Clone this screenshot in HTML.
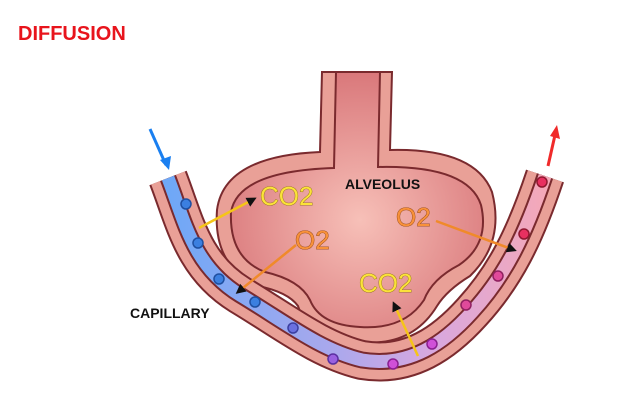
<!DOCTYPE html>
<html><head><style>body{margin:0;background:#fff}svg{display:block}</style></head><body>
<svg width="643" height="411" viewBox="0 0 643 411" xmlns="http://www.w3.org/2000/svg">
<defs>
<radialGradient id="ag" cx="360" cy="220" r="150" gradientUnits="userSpaceOnUse"><stop offset="0" stop-color="#f7c0b8"/><stop offset="1" stop-color="#d9777a"/></radialGradient>
<linearGradient id="lg" x1="170" y1="0" x2="545" y2="0" gradientUnits="userSpaceOnUse"><stop offset="0" stop-color="#6fa8f7"/><stop offset="0.45" stop-color="#aca8ec"/><stop offset="0.7" stop-color="#d8a8e0"/><stop offset="1" stop-color="#f4a8b8"/></linearGradient>
<marker id="ah" markerWidth="10" markerHeight="10" refX="7" refY="5" orient="auto" markerUnits="userSpaceOnUse" viewBox="0 0 10 10"><path d="M0,0 L10,5 L0,10 Z" fill="#111"/></marker>
</defs>
<text x="18" y="40" font-family="Liberation Sans, sans-serif" font-weight="bold" font-size="20" fill="#e8141c">DIFFUSION</text>
<path d="M322,72 L392,72 L390,150 Q475,148 492,192 Q505,242 470,276 Q447,290 437,306 Q412,347 360,342 Q308,337 298,306 Q288,292 258,286 Q213,266 217,210 Q224,156 320,152 Z" fill="#e9a097" stroke="#7a2a2e" stroke-width="2"/>
<path d="M336,72 L380,72 L378,167 Q468,165 481,205 Q490,244 459,265 Q432,279 424,300 Q404,330 360,327 Q320,325 310,300 Q300,280 265,272 Q229,258 231,212 Q238,171 334,168 Z" fill="url(#ag)" stroke="#7a2a2e" stroke-width="2"/>
<g fill="none" stroke-linecap="butt">
<path d="M168,178 C185,222 193,266 240,295 C285,322 320,350 362,360 C410,368 445,342 472,312 C505,276 525,236 545,176" stroke="#7a2a2e" stroke-width="40"/>
<path d="M168,178 C185,222 193,266 240,295 C285,322 320,350 362,360 C410,368 445,342 472,312 C505,276 525,236 545,176" stroke="#e9a097" stroke-width="36"/>
<path d="M168,178 C185,222 193,266 240,295 C285,322 320,350 362,360 C410,368 445,342 472,312 C505,276 525,236 545,176" stroke="#7a2a2e" stroke-width="17"/>
<path d="M168,178 C185,222 193,266 240,295 C285,322 320,350 362,360 C410,368 445,342 472,312 C505,276 525,236 545,176" stroke="url(#lg)" stroke-width="13"/>
</g>
<rect x="140" y="150" width="60" height="26" fill="#fff" transform="rotate(-22 170 176)"/>
<rect x="518" y="146" width="60" height="26" fill="#fff" transform="rotate(18 545 172)"/>
<g stroke-width="1.5">
<g fill="#3b7fe0" stroke="#1f4fa0"><circle cx="186" cy="204" r="5"/><circle cx="198" cy="243" r="5"/><circle cx="219" cy="279" r="5"/><circle cx="255" cy="302" r="5"/></g>
<g fill="#6a70e0" stroke="#3b3fa0"><circle cx="293" cy="328" r="5"/></g>
<g fill="#9a60e0" stroke="#5a30a0"><circle cx="333" cy="359" r="5"/></g>
<g fill="#d050d8" stroke="#8a2090"><circle cx="393" cy="364" r="5"/><circle cx="432" cy="344" r="5"/></g>
<g fill="#e04a9a" stroke="#902060"><circle cx="466" cy="305" r="5"/><circle cx="498" cy="276" r="5"/></g>
<g fill="#e83060" stroke="#901830"><circle cx="524" cy="234" r="5"/><circle cx="542" cy="182" r="5"/></g>
</g>
<line x1="150" y1="129" x2="166" y2="165" stroke="#1a7ff0" stroke-width="3"/><path d="M160,160 L169,170 L171,156 Z" fill="#1a7ff0"/>
<line x1="548" y1="166" x2="555" y2="135" stroke="#f02a2a" stroke-width="3"/><path d="M550,136 L557,125 L560,139 Z" fill="#f02a2a"/>
<line x1="199" y1="228" x2="254" y2="199" stroke="#f5c518" stroke-width="2.5" marker-end="url(#ah)"/>
<line x1="296" y1="245" x2="238" y2="292" stroke="#f08a2a" stroke-width="2.5" marker-end="url(#ah)"/>
<line x1="436" y1="221" x2="514" y2="250" stroke="#f08a2a" stroke-width="2.5" marker-end="url(#ah)"/>
<line x1="418" y1="356" x2="394" y2="304" stroke="#f5c518" stroke-width="2.5" marker-end="url(#ah)"/>
<g font-family="Liberation Sans, sans-serif" font-size="26" stroke-width="0.8" paint-order="stroke">
<text x="260" y="205" fill="#fbe23a" stroke="#8a6a10">CO2</text>
<text x="295" y="249" fill="#f8913a" stroke="#8a4010">O2</text>
<text x="396" y="226" fill="#f8913a" stroke="#8a4010">O2</text>
<text x="359" y="292" fill="#fbe23a" stroke="#8a6a10">CO2</text>
</g>
<text x="345" y="189" font-family="Liberation Sans, sans-serif" font-weight="bold" font-size="14" fill="#111">ALVEOLUS</text>
<text x="130" y="318" font-family="Liberation Sans, sans-serif" font-weight="bold" font-size="14" fill="#111">CAPILLARY</text>
</svg>
</body></html>
